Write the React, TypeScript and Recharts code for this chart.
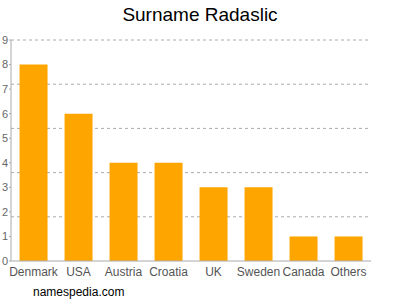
import React from "react";
import { BarChart, Bar, XAxis, YAxis, CartesianGrid } from "recharts";

const countries = ["Denmark", "USA", "Austria", "Croatia", "UK", "Sweden", "Canada", "Others"];
const counts = [8, 6, 4, 4, 3, 3, 1, 1];
const yTicks = [0, 1, 2, 3, 4, 5, 6, 7, 8, 9];
const gridValues = [1.8, 3.6, 5.4, 7.2, 9];

const data = countries.map((c, i) => ({ name: c, value: counts[i] }));

export default function App() {
  const font = "'Liberation Sans', Arial, sans-serif";
  return (
    <div style={{ position: "absolute", left: 0, top: 0, width: 400, height: 300, fontFamily: font }}>
      <div style={{ position: "absolute", left: 0, top: 4, width: 400, textAlign: "center", fontSize: 19, color: "#000" }}>
        Surname Radaslic
      </div>
      <BarChart
        width={400}
        height={300}
        data={data}
        margin={{ top: 40, right: 29, left: 0, bottom: 0 }}
        barCategoryGap="19%"
      >
        <CartesianGrid
          horizontal={true}
          vertical={false}
          horizontalValues={gridValues}
          stroke="#aaa"
          strokeDasharray="3 3"
        />
        <XAxis
          dataKey="name"
          height={39}
          interval={0}
          tickLine={false}
          axisLine={{ stroke: "#aaa" }}
          tick={{ fontSize: 12, fill: "#555", fontFamily: font }}
          tickMargin={0}
        />
        <YAxis
          width={11}
          domain={[0, 9]}
          ticks={yTicks}
          interval={0}
          tickSize={2}
          tickMargin={1}
          axisLine={{ stroke: "#aaa" }}
          tickLine={{ stroke: "#aaa" }}
          tick={{ fontSize: 11, fill: "#666", fontFamily: font }}
        />
        <Bar dataKey="value" fill="#FFA500" isAnimationActive={false} />
      </BarChart>
      <div style={{ position: "absolute", left: 33, top: 285, fontSize: 12, color: "#000" }}>
        namespedia.com
      </div>
    </div>
  );
}
